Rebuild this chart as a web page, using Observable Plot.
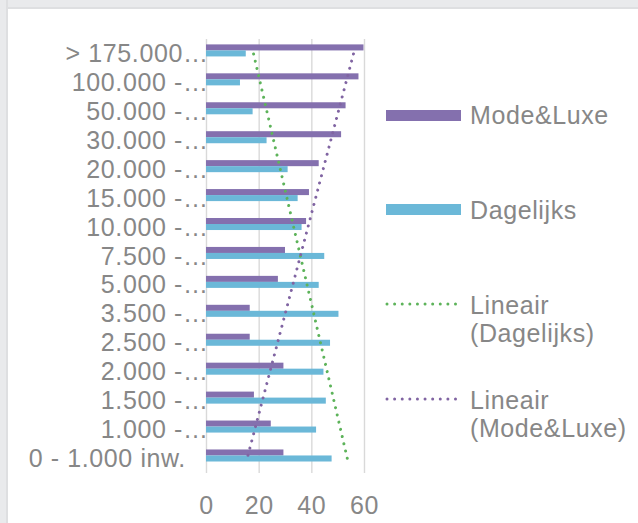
<!DOCTYPE html>
<html><head><meta charset="utf-8">
<script src="https://cdn.jsdelivr.net/npm/d3@7"></script>
<script src="https://cdn.jsdelivr.net/npm/@observablehq/plot@0.6"></script>
<style>
body{margin:0;background:#fff;}
#wrap{position:relative;width:638px;height:523px;overflow:hidden;font-family:"Liberation Sans",Arial,sans-serif;color:#878787;background:#fff;}
.stripTop{position:absolute;left:0;top:0;width:638px;height:7px;background:#e9eaec;border-bottom:2px solid #dedfe1;}
.stripLeft{position:absolute;left:0;top:0;width:6px;height:523px;background:#e9eaec;border-right:2px solid #dedfe1;}
#chart{position:absolute;left:0;top:0;}
.lg{position:absolute;font-size:25px;line-height:28px;white-space:nowrap;letter-spacing:0.6px;}
.sw{position:absolute;left:386px;width:75px;height:11px;}
</style></head><body>
<div id="wrap"><div class="stripTop"></div><div class="stripLeft"></div><div id="chart"></div><div id="legend"></div></div>
<script>
const categories = ["> 175.000…","100.000 -…","50.000 -…","30.000 -…","20.000 -…","15.000 -…","10.000 -…","7.500 -…","5.000 -…","3.500 -…","2.500 -…","2.000 -…","1.500 -…","1.000 -…","0 - 1.000 inw.\u00A0\u00A0\u00A0"];
const modeLuxe = [59.8,57.9,53,51.3,42.8,39.1,38,30,27.3,16.6,16.6,29.4,18.2,24.6,29.4];
const dagelijks = [15.1,12.9,17.7,23,31,34.8,36.3,44.9,42.8,50.3,47.1,44.6,45.5,41.8,47.7];
const xTicks = [0,20,40,60];
const seriesNames = ["Mode&Luxe","Dagelijks"];

const colML = "#8470AE", colDG = "#6BB8D8", colTrendDG = "#5DB35A", colTrendML = "#8064A2";

function fit(vals){
  const xs = d3.range(vals.length);
  const mx = d3.mean(xs), my = d3.mean(vals);
  const b = d3.sum(xs,(x,i)=>(x-mx)*(vals[i]-my)) / d3.sum(xs,x=>(x-mx)**2);
  return xs.map(x => my + b*(x-mx));
}
const fitML = fit(modeLuxe), fitDG = fit(dagelijks);
const rows = categories.map((c,i)=>({cat:c, ml:modeLuxe[i], dg:dagelijks[i], fml:fitML[i], fdg:fitDG[i]}));

const chart = Plot.plot({
  width:638, height:523,
  marginLeft:206, marginRight:274, marginTop:39, marginBottom:50,
  style:{fontFamily:'"Liberation Sans",Arial,sans-serif', fontSize:"25px", color:"#878787", background:"transparent", overflow:"visible", letterSpacing:"0.6px"},
  x:{domain:[0,60], ticks:xTicks, tickSize:0, tickPadding:23, label:null},
  y:{domain:categories, padding:0, round:false, tickSize:0, tickPadding:-2, label:null},
  marks:[
    Plot.ruleX(xTicks,{stroke:"#d9d9d9", strokeWidth:1.4}),
    Plot.barX(rows,{y:"cat", x:"ml", fill:colML, insetTop:5.4, insetBottom:17.5}),
    Plot.barX(rows,{y:"cat", x:"dg", fill:colDG, insetTop:11.4, insetBottom:11.5}),
    Plot.line(rows,{x:"fdg", y:"cat", stroke:colTrendDG, strokeWidth:3, strokeDasharray:"0.01,7.4", strokeLinecap:"round"}),
    Plot.line(rows,{x:"fml", y:"cat", stroke:colTrendML, strokeWidth:3, strokeDasharray:"0.01,7.4", strokeLinecap:"round"})
  ]
});
document.getElementById("chart").appendChild(chart);

const lg = document.getElementById("legend");
function add(html){ lg.insertAdjacentHTML("beforeend", html); }
add(`<div class="sw" style="top:110px;background:${colML}"></div>`);
add(`<div class="lg" style="left:470px;top:101px">${seriesNames[0]}</div>`);
add(`<div class="sw" style="top:204px;background:${colDG}"></div>`);
add(`<div class="lg" style="left:470px;top:196px">${seriesNames[1]}</div>`);
const tl = (y,c)=>`<svg style="position:absolute;left:384px;top:${y-4}px" width="76" height="8"><line x1="3" x2="72" y1="4" y2="4" stroke="${c}" stroke-width="3" stroke-dasharray="0.01,7.6" stroke-linecap="round"/></svg>`;
add(tl(304,colTrendDG));
add(`<div class="lg" style="left:470px;top:291px">Lineair<br>(Dagelijks)</div>`);
add(tl(399,colTrendML));
add(`<div class="lg" style="left:470px;top:386px">Lineair<br>(Mode&amp;Luxe)</div>`);
</script>
</body></html>
